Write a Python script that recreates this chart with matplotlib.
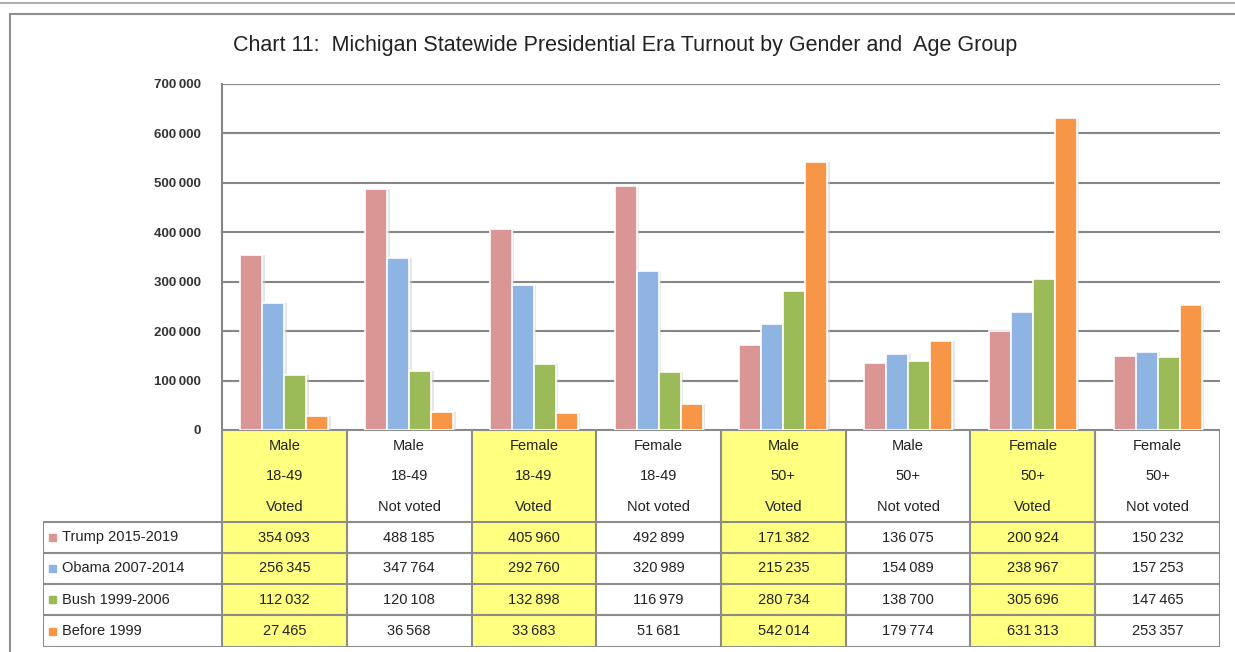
import numpy as np
import matplotlib.pyplot as plt
from matplotlib.patches import Rectangle

plt.rcParams['font.family'] = ['Liberation Sans', 'DejaVu Sans']

# data
genders = ['Male', 'Male', 'Female', 'Female', 'Male', 'Male', 'Female', 'Female']
ages = ['18-49', '18-49', '18-49', '18-49', '50+', '50+', '50+', '50+']
status = ['Voted', 'Not voted', 'Voted', 'Not voted', 'Voted', 'Not voted', 'Voted', 'Not voted']
series = ['Trump 2015-2019', 'Obama 2007-2014', 'Bush 1999-2006', 'Before 1999']
trump = [354093, 488185, 405960, 492899, 171382, 136075, 200924, 150232]
obama = [256345, 347764, 292760, 320989, 215235, 154089, 238967, 157253]
bush = [112032, 120108, 132898, 116979, 280734, 138700, 305696, 147465]
before = [27465, 36568, 33683, 51681, 542014, 179774, 631313, 253357]
values = [trump, obama, bush, before]
colors = ['#D99694', '#8EB4E3', '#9BBB59', '#F79646']
yticks = [0, 100000, 200000, 300000, 400000, 500000, 600000, 700000]

W, H = 1235, 652
fig = plt.figure(figsize=(W / 100, H / 100), dpi=100)

def px_axes(x0, y0, x1, y1, **kw):
    return fig.add_axes([x0 / W, 1 - y1 / H, (x1 - x0) / W, (y1 - y0) / H], **kw)

def fmt(v):
    return f'{v:,}'.replace(',', '\u2009')

# outer frame lines
bg = px_axes(0, 0, W, H)
bg.set_xlim(0, W)
bg.set_ylim(H, 0)
bg.axis('off')
bg.plot([0, W], [3, 3], color='#b0b0b0', lw=1.5)
bg.plot([10, W], [14, 14], color='#909090', lw=1.5)
bg.plot([10, 10], [14, H], color='#909090', lw=1.5)

fig.text(625 / W, 1 - 45 / H,
         'Chart 11:  Michigan Statewide Presidential Era Turnout by Gender and  Age Group',
         ha='center', va='center', fontsize=15.5, color='#222222')

# bar chart
ax = px_axes(222, 84, 1220, 430)
x = np.arange(len(genders))
bw = 0.176
for i, (vals, c) in enumerate(zip(values, colors)):
    pos = x + (i - 1.5) * bw
    ax.bar(pos + 0.02, vals, width=bw, color='#d0d0d0', alpha=0.5, zorder=2)
    ax.bar(pos, vals, width=bw, color=c, edgecolor='white', linewidth=1.2, zorder=3)
ax.set_xlim(-0.5, len(genders) - 0.5)
ax.set_ylim(0, 700000)
ax.set_yticks(yticks)
ax.set_yticklabels([fmt(v) for v in yticks], fontsize=9.5, fontweight='bold', color='#333333')
ax.tick_params(axis='y', length=0, pad=15)
ax.set_xticks([])
ax.yaxis.grid(True, color='#868686', lw=1.5, zorder=1)
for s in ['top', 'right', 'bottom']:
    ax.spines[s].set_visible(False)
ax.spines['left'].set_color('#868686')
ax.spines['left'].set_linewidth(1.5)

# data table
colw = (1220 - 222) / len(genders)
lab_w = (222 - 43) / colw
tax = px_axes(43, 430, 1220, 647)
tax.set_xlim(-0.5 - lab_w, len(genders) - 0.5)
tax.set_ylim(647, 430)
tax.axis('off')
row_y = [522, 553, 584, 615, 647]
grid = dict(color='#8c8c8c', lw=1.5, zorder=3)

for j in range(len(genders)):
    if status[j] == 'Voted':
        tax.add_patch(Rectangle((j - 0.5, 430), 1, 217, color='#FFFF80', zorder=1))
    tax.text(j, 446, genders[j], ha='center', va='center', fontsize=10.5, color='#222222')
    tax.text(j, 476, ages[j], ha='center', va='center', fontsize=10.5, color='#222222')
    tax.text(j, 507, status[j], ha='center', va='center', fontsize=10.5, color='#222222')
    for r in range(len(series)):
        yc = (row_y[r] + row_y[r + 1]) / 2
        tax.text(j, yc, fmt(values[r][j]), ha='center', va='center', fontsize=10.5, color='#222222')

for r in range(len(series)):
    yc = (row_y[r] + row_y[r + 1]) / 2
    kx = -0.5 - lab_w + 0.05
    tax.add_patch(Rectangle((kx, yc - 3.5), 0.055, 7, color=colors[r], zorder=2))
    tax.text(kx + 0.1, yc, series[r], ha='left', va='center', fontsize=10.5, color='#222222')

# table borders
left = -0.5 - lab_w
right = len(genders) - 0.5
for yy in row_y:
    tax.plot([left, right], [yy, yy], **grid)
tax.plot([-0.5, right], [430, 430], **grid)
tax.plot([left, left], [row_y[0], row_y[-1]], **grid)
for j in range(len(genders) + 1):
    tax.plot([j - 0.5, j - 0.5], [430, 647], **grid)

fig.savefig('out.png', dpi=100)
